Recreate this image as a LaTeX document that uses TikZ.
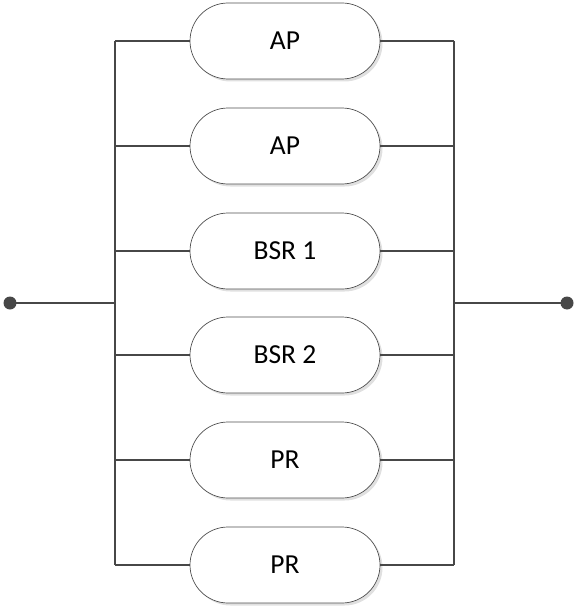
\documentclass[tikz,border=0pt]{standalone}
\usepackage{fontspec}
\setmainfont{Carlito}
\usetikzlibrary{shadows}
\definecolor{wire}{HTML}{474747}
\definecolor{edge}{HTML}{505050}
\tikzset{
  x=1pt, y=-1pt,
  blk/.style={draw=edge, line width=0.7pt, fill=white, rounded corners=38pt,
    minimum width=190pt, minimum height=76pt, inner sep=0pt,
    font=\fontsize{27.5}{32}\selectfont,
    drop shadow={shadow xshift=2.5pt, shadow yshift=-2.5pt, fill=black!12, opacity=1}},
  wireline/.style={draw=wire, line width=2pt},
  terminal/.style={circle, fill=wire, minimum size=13pt, inner sep=0pt}
}
\begin{document}
\begin{tikzpicture}
\useasboundingbox (0,0) rectangle (574,607);
% bus rails
\coordinate (lt) at (115,41);
\coordinate (lb) at (115,565);
\coordinate (rt) at (454,41);
\coordinate (rb) at (454,565);
\coordinate (lm) at (115,303);
\coordinate (rm) at (454,303);
\draw[wireline] (lt) -- (lb);
\draw[wireline] (rt) -- (rb);
% terminals
\node[terminal] (in) at (10,303) {};
\node[terminal] (out) at (567,303) {};
\draw[wireline] (in.center) -- (lm);
\draw[wireline] (rm) -- (out.center);
% parallel branches
\foreach \i/\yy/\txt in {1/41/AP, 2/146/AP, 3/251/BSR 1, 4/355/BSR 2, 5/460/PR, 6/565/PR}{
  \coordinate (l\i) at (115,\yy);
  \coordinate (r\i) at (454,\yy);
  \node[blk] (b\i) at (285,\yy) {\txt};
  \draw[wireline] (l\i) -- (b\i.west);
  \draw[wireline] (b\i.east) -- (r\i);
}
\end{tikzpicture}
\end{document}
